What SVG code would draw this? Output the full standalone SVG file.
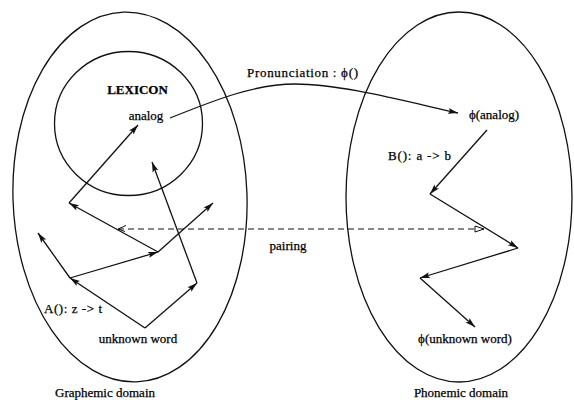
<svg xmlns="http://www.w3.org/2000/svg" width="574" height="400" viewBox="0 0 574 400">
<style>
.t{font-family:"Liberation Serif","Times New Roman",serif;font-size:13px;fill:#000;stroke:#000;stroke-width:0.25}
.b{font-weight:bold}
.sh{fill:none;stroke:#111;stroke-width:1.3}
.c{fill:none;stroke:#111;stroke-width:1.3}
.d{fill:none;stroke:#111;stroke-width:1.1;stroke-dasharray:6,4}
</style>
<defs>
<marker id="ah" markerUnits="userSpaceOnUse" markerWidth="11" markerHeight="8" refX="10" refY="3" orient="auto" overflow="visible">
<path d="M0,0 L10,3 L0,6 L2,3 z" fill="#111"/>
</marker>
<marker id="open" markerUnits="userSpaceOnUse" markerWidth="10" markerHeight="8" refX="9" refY="3" orient="auto" overflow="visible">
<path d="M0,0 L9,3 L0,6 z" fill="#fff" stroke="#111" stroke-width="1"/>
</marker>
<marker id="chev" markerUnits="userSpaceOnUse" markerWidth="10" markerHeight="8" refX="0" refY="3" orient="auto" overflow="visible">
<path d="M8,-0.5 L0,3 L7,5.5" fill="none" stroke="#111" stroke-width="1"/>
</marker>
</defs>

<g id="graphemic-domain">
<ellipse class="sh" cx="130" cy="197" rx="117" ry="185" transform="rotate(-2 130 197)"/>
<text class="t" x="105" y="397" text-anchor="middle">Graphemic domain</text>
</g>

<g id="lexicon">
<ellipse class="sh" cx="128.5" cy="123.5" rx="74" ry="72"/>
<text class="t b" x="137.5" y="94" text-anchor="middle">LEXICON</text>
</g>

<g id="analog">
<text class="t" x="146" y="120" text-anchor="middle">analog</text>
</g>

<g id="unknown-word">
<text class="t" x="138" y="343" text-anchor="middle">unknown word</text>
</g>

<g id="phonemic-domain">
<ellipse class="sh" cx="459" cy="197" rx="113" ry="185"/>
<text class="t" x="461" y="397" text-anchor="middle">Phonemic domain</text>
</g>

<g id="phi-analog">
<text class="t" x="494" y="119" text-anchor="middle">ϕ(analog)</text>
</g>

<g id="phi-unknown-word">
<text class="t" x="465" y="343" text-anchor="middle">ϕ(unknown word)</text>
</g>

<g id="connectors">
<path class="c" d="M170,118 C215,100 255,84 295,84 C340,84 400,100 458,113" marker-end="url(#ah)"/>
<text class="t" x="247" y="77" textLength="111">Pronunciation :  ϕ()</text>

<line class="d" x1="118" y1="229" x2="484" y2="229" marker-start="url(#chev)" marker-end="url(#open)"/>
<text class="t" x="288" y="250" text-anchor="middle">pairing</text>

<line class="c" x1="145" y1="328" x2="70" y2="278" marker-end="url(#ah)"/>
<line class="c" x1="70" y1="278" x2="38" y2="233" marker-end="url(#ah)"/>
<line class="c" x1="70" y1="278" x2="158" y2="252" marker-end="url(#ah)"/>
<line class="c" x1="158" y1="252" x2="213" y2="203" marker-end="url(#ah)"/>
<line class="c" x1="158" y1="252" x2="69" y2="203" marker-end="url(#ah)"/>
<line class="c" x1="69" y1="203" x2="138" y2="125" marker-end="url(#ah)"/>
<line class="c" x1="145" y1="328" x2="197" y2="283" marker-end="url(#ah)"/>
<line class="c" x1="197" y1="283" x2="152" y2="162" marker-end="url(#ah)"/>
<text class="t" x="44" y="313" textLength="58">A(): z -&gt; t</text>

<line class="c" x1="487" y1="130" x2="430" y2="194" marker-end="url(#ah)"/>
<line class="c" x1="430" y1="194" x2="518" y2="248" marker-end="url(#ah)"/>
<line class="c" x1="518" y1="248" x2="420" y2="278" marker-end="url(#ah)"/>
<line class="c" x1="420" y1="278" x2="475" y2="327" marker-end="url(#ah)"/>
<text class="t" x="388" y="160" textLength="63">B(): a -&gt; b</text>
</g>
</svg>
